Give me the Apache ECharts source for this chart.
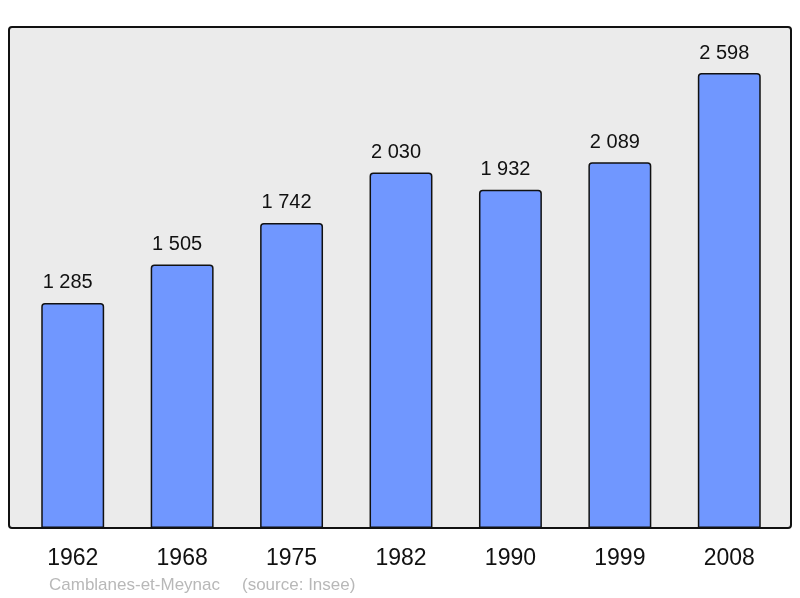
<!DOCTYPE html>
<html>
<head>
<meta charset="utf-8">
<script src="https://cdn.jsdelivr.net/npm/echarts@6/dist/echarts.min.js"></script>
<style>
  html, body { margin: 0; padding: 0; background: #fff; }
  #chart { width: 800px; height: 598px; }
</style>
</head>
<body>
<div id="chart"></div>
<script>
// population by census year
const years = ['1962', '1968', '1975', '1982', '1990', '1999', '2008']
const population = [1285, 1505, 1742, 2030, 1932, 2089, 2598]
const placeName = 'Camblanes-et-Meynac'
const sourceName = '(source: Insee)'

function fmt(v) {
  return String(v).replace(/\B(?=(\d{3})+(?!\d))/g, ' ')
}

const font = 'Liberation Sans, Arial, sans-serif'
const chart = echarts.init(document.getElementById('chart'))
chart.setOption({
  animation: false,
  textStyle: { fontFamily: font },
  grid: { left: 18, right: 16, top: 27, bottom: 70 },
  graphic: [
    {
      type: 'rect',
      z: 0,
      shape: { x: 9, y: 27, width: 782, height: 501, r: 3 },
      style: { fill: '#ebebeb', stroke: '#111', lineWidth: 2 }
    },
    {
      type: 'text',
      left: 49,
      top: 577,
      style: { text: placeName, fill: '#b8b8b8', fontSize: 17, fontFamily: font }
    },
    {
      type: 'text',
      left: 242,
      top: 577,
      style: { text: sourceName, fill: '#b8b8b8', fontSize: 17, fontFamily: font }
    }
  ],
  xAxis: {
    type: 'category',
    data: years,
    axisLine: { show: false },
    axisTick: { show: false },
    axisLabel: { color: '#111', fontSize: 23, margin: 19 }
  },
  yAxis: {
    type: 'value',
    min: 0,
    max: 2861,
    show: false,
    splitLine: { show: false }
  },
  series: [
    {
      type: 'bar',
      data: population,
      barWidth: '57.5%',
      z: 3,
      itemStyle: {
        color: '#7097ff',
        borderColor: '#111',
        borderWidth: 1.5,
        borderRadius: [3, 3, 0, 0]
      },
      label: {
        show: true,
        position: 'top',
        distance: 10,
        offset: [-5, 0],
        color: '#111',
        fontSize: 20,
        formatter: (p) => fmt(p.value)
      }
    }
  ]
})
</script>
</body>
</html>
